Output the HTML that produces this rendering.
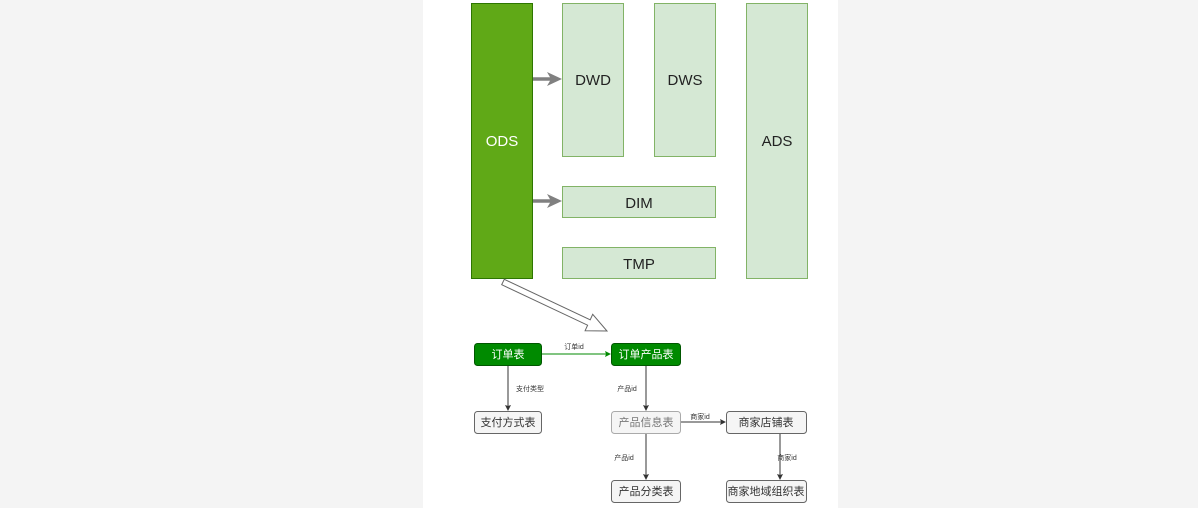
<!DOCTYPE html>
<html><head><meta charset="utf-8"><style>
body{margin:0;background:#f4f4f4;}
svg{display:block}
text{font-family:"Liberation Sans","Noto Sans CJK SC",sans-serif;}
</style></head><body>
<svg width="1198" height="508" xmlns="http://www.w3.org/2000/svg">
<rect x="423" y="0" width="415" height="508" fill="#ffffff"/>
<rect x="471.5" y="3.5" width="61" height="275" fill="#60a917" stroke="#2d7600"/>
<text x="502" y="146" font-size="15" fill="#fff" text-anchor="middle">ODS</text>
<g fill="#d5e8d4" stroke="#82b366">
<rect x="562.5" y="3.5" width="61" height="153"/>
<rect x="654.5" y="3.5" width="61" height="153"/>
<rect x="746.5" y="3.5" width="61" height="275"/>
<rect x="562.5" y="186.5" width="153" height="31"/>
<rect x="562.5" y="247.5" width="153" height="31"/>
</g>
<g font-size="15" fill="#222" text-anchor="middle">
<text x="593" y="85">DWD</text>
<text x="685" y="85">DWS</text>
<text x="777" y="146">ADS</text>
<text x="639" y="208">DIM</text>
<text x="639" y="269">TMP</text>
</g>
<g stroke="#808080" stroke-width="3.5" fill="none">
<line x1="533" y1="79" x2="552" y2="79"/>
<line x1="533" y1="201" x2="552" y2="201"/>
</g>
<g fill="#808080">
<polygon points="562,79 547,72 551,79 547,86"/>
<polygon points="562,201 547,194 551,201 547,208"/>
</g>
<polygon points="501.7,284.7 587.6,325.2 585.1,330.7 607,331 592.7,314.3 590.2,319.8 504.3,279.3" fill="#fff" stroke="#666" stroke-width="1"/>
<!-- connectors -->
<g stroke="#333" stroke-width="1" fill="none">
<line x1="541" y1="354" x2="606" y2="354" stroke="#008a00"/>
<line x1="508" y1="365" x2="508" y2="406"/>
<line x1="646" y1="365" x2="646" y2="406"/>
<line x1="680" y1="422" x2="721" y2="422"/>
<line x1="646" y1="433" x2="646" y2="475"/>
<line x1="780" y1="433" x2="780" y2="475"/>
</g>
<g fill="#333">
<polygon points="611,354 605,351 606,354 605,357" fill="#008a00"/>
<polygon points="508,411 505,405 508,406 511,405"/>
<polygon points="646,411 643,405 646,406 649,405"/>
<polygon points="726,422 720,419 721,422 720,425"/>
<polygon points="646,480 643,474 646,475 649,474"/>
<polygon points="780,480 777,474 780,475 783,474"/>
</g>
<rect x="474.5" y="343.5" width="67" height="22" rx="3" fill="#008a00" stroke="#005700"/>
<rect x="611.5" y="343.5" width="69" height="22" rx="3" fill="#008a00" stroke="#005700"/>
<g fill="#f5f5f5" stroke="#666">
<rect x="474.5" y="411.5" width="67" height="22" rx="3"/>
<rect x="611.5" y="411.5" width="69" height="22" rx="3" stroke="#aaa"/>
<rect x="726.5" y="411.5" width="80" height="22" rx="3"/>
<rect x="611.5" y="480.5" width="69" height="22" rx="3"/>
<rect x="726.5" y="480.5" width="80" height="22" rx="3"/>
</g>
<g font-size="11" text-anchor="middle">
<text x="508" y="358" fill="#fff">订单表</text>
<text x="646" y="358" fill="#fff">订单产品表</text>
<text x="508" y="426" fill="#333">支付方式表</text>
<text x="646" y="426" fill="#777">产品信息表</text>
<text x="766" y="426" fill="#333">商家店铺表</text>
<text x="646" y="495" fill="#333">产品分类表</text>
<text x="766" y="495" fill="#333">商家地域组织表</text>
</g>
<g font-size="7" fill="#333" text-anchor="middle">
<text x="574" y="349">订单id</text>
<text x="530" y="391">支付类型</text>
<text x="627" y="391">产品id</text>
<text x="700" y="419">商家id</text>
<text x="624" y="460">产品id</text>
<text x="787" y="460">商家id</text>
</g>
</svg>
</body></html>
